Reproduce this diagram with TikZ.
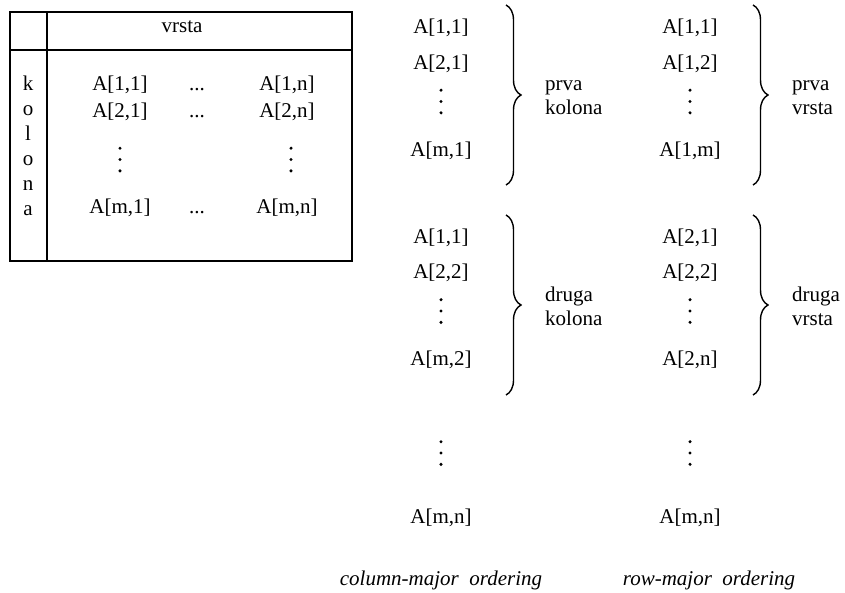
\documentclass[tikz,border=0pt]{standalone}
\usepackage{fontspec}
\setmainfont{Liberation Serif}
\usetikzlibrary{decorations.pathreplacing}
\begin{document}
\begin{tikzpicture}[x=1pt,y=-1pt,
  every node/.style={inner sep=0pt, font=\fontsize{21}{25}\selectfont},
  cell/.style={anchor=base},
  dotc/.style={circle, fill=black, minimum size=3.4pt, inner sep=0pt},
  lbl/.style={anchor=base west},
  captxt/.style={anchor=base, font=\fontsize{21}{25}\selectfont\itshape},
  frame/.style={line width=2.5pt},
  brc/.style={decorate, decoration={brace, amplitude=15pt}, line width=1.4pt}]
\useasboundingbox (0,0) rectangle (845,592);

% vertical ellipsis: three dots centred on (#1,#2)
\newcommand{\vdts}[3]{%
  \foreach \k in {-1,0,1}
    \node[dotc] (#3\k) at (#1,#2+11.3*\k) {};}

% ---- table ----
\draw[frame] (10,12) rectangle (352,261);
\draw[frame] (47,12) -- (47,261);
\draw[frame] (10,50) -- (352,50);
\node[cell] (vrsta) at (182,32) {vrsta};
\foreach \l [count=\i] in {k,o,l,o,n,a}
  \node[cell] (kol\i) at (28,65+25*\i) {\l};

\node[cell] (t11) at (120,90.5) {A[1,1]};
\node[cell] (td1) at (197,90.5) {...};
\node[cell] (t1n) at (287,90.5) {A[1,n]};
\node[cell] (t21) at (120,117) {A[2,1]};
\node[cell] (td2) at (197,117) {...};
\node[cell] (t2n) at (287,117) {A[2,n]};
\vdts{120}{159.5}{tva}
\vdts{291}{159.5}{tvb}
\node[cell] (tm1) at (120,213) {A[m,1]};
\node[cell] (tdm) at (197,213) {...};
\node[cell] (tmn) at (287,213) {A[m,n]};

% ---- column-major ----
\node[cell] (c11) at (441,33) {A[1,1]};
\node[cell] (c21) at (441,69) {A[2,1]};
\vdts{441}{101.5}{cva}
\node[cell] (cm1) at (441,156) {A[m,1]};
\coordinate (cb1t) at (506,5);
\coordinate (cb1b) at (506,185);
\draw[brc] (cb1t) -- (cb1b);
\node[lbl] (cl1a) at (545,90.5) {prva};
\node[lbl] (cl1b) at (545,114.5) {kolona};

\node[cell] (c12) at (441,243) {A[1,1]};
\node[cell] (c22) at (441,278) {A[2,2]};
\vdts{441}{311}{cvb}
\node[cell] (cm2) at (441,365) {A[m,2]};
\coordinate (cb2t) at (506,215);
\coordinate (cb2b) at (506,395);
\draw[brc] (cb2t) -- (cb2b);
\node[lbl] (cl2a) at (545,301) {druga};
\node[lbl] (cl2b) at (545,325) {kolona};

\vdts{441}{453}{cvc}
\node[cell] (cmn) at (441,523) {A[m,n]};
\node[captxt] (capc) at (441,585) {column-major~ ordering};

% ---- row-major ----
\node[cell] (r11) at (690,33) {A[1,1]};
\node[cell] (r12) at (690,69) {A[1,2]};
\vdts{690}{101.5}{rva}
\node[cell] (r1m) at (690,156) {A[1,m]};
\coordinate (rb1t) at (753,5);
\coordinate (rb1b) at (753,185);
\draw[brc] (rb1t) -- (rb1b);
\node[lbl] (rl1a) at (792,90.5) {prva};
\node[lbl] (rl1b) at (792,114.5) {vrsta};

\node[cell] (r21) at (690,243) {A[2,1]};
\node[cell] (r22) at (690,278) {A[2,2]};
\vdts{690}{311}{rvb}
\node[cell] (r2n) at (690,365) {A[2,n]};
\coordinate (rb2t) at (753,215);
\coordinate (rb2b) at (753,395);
\draw[brc] (rb2t) -- (rb2b);
\node[lbl] (rl2a) at (792,301) {druga};
\node[lbl] (rl2b) at (792,325) {vrsta};

\vdts{690}{453}{rvc}
\node[cell] (rmn) at (690,523) {A[m,n]};
\node[captxt] (capr) at (709,585) {row-major~ ordering};
\end{tikzpicture}
\end{document}
